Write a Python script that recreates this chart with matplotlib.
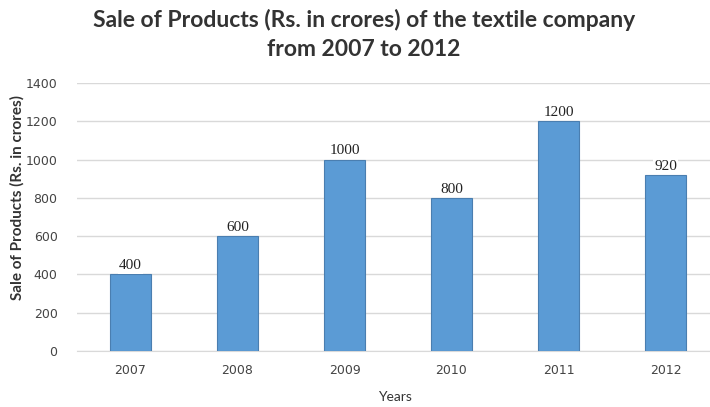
import matplotlib.pyplot as plt

years = ['2007', '2008', '2009', '2010', '2011', '2012']
sales = [400, 600, 1000, 800, 1200, 920]

fig = plt.figure(figsize=(7.1, 4.07), dpi=100)
ax = fig.add_axes([77 / 710, 56 / 407, 642 / 710, 268 / 407])

x = range(len(years))
ax.bar(x, sales, width=0.39, color='#5B9BD5', edgecolor='#4A7EB0', linewidth=0.8, zorder=3)

for i, v in zip(x, sales):
    ax.text(i, v + 12, str(v), ha='center', va='bottom', fontsize=11,
            family='Liberation Serif', color='#222222', zorder=4,
            bbox=dict(facecolor='white', edgecolor='none', pad=1))

ax.set_xlim(-0.5, len(years) - 0.5)
ax.set_ylim(0, 1400)
ax.set_yticks(range(0, 1401, 200))
ax.set_xticks(list(x))
ax.set_xticklabels(years)
ax.grid(axis='y', color='#D9D9D9', linewidth=1, zorder=0)
for s in ['top', 'right', 'left']:
    ax.spines[s].set_visible(False)
ax.spines['bottom'].set_color('#D9D9D9')
ax.tick_params(length=0, labelsize=9, colors='#444444')
ax.tick_params(axis='y', pad=14)
ax.tick_params(axis='x', pad=9)

fig.text(364 / 710, 1 - 20 / 407, 'Sale of Products (Rs. in crores) of the textile company',
         ha='center', va='center', fontsize=16.5, fontweight='bold', family='Lato', color='#333333')
fig.text(364 / 710, 1 - 50 / 407, 'from 2007 to 2012',
         ha='center', va='center', fontsize=16.5, fontweight='bold', family='Lato', color='#333333')
fig.text(17 / 710, 1 - 197 / 407, 'Sale of Products (Rs. in crores)', rotation=90,
         ha='center', va='center', fontsize=11, fontweight='bold', color='#333333', family='Lato')
fig.text(395 / 710, 1 - 397 / 407, 'Years', ha='center', va='center', fontsize=10,
         color='#333333', family='Lato')

fig.savefig('out.png', dpi=100)
